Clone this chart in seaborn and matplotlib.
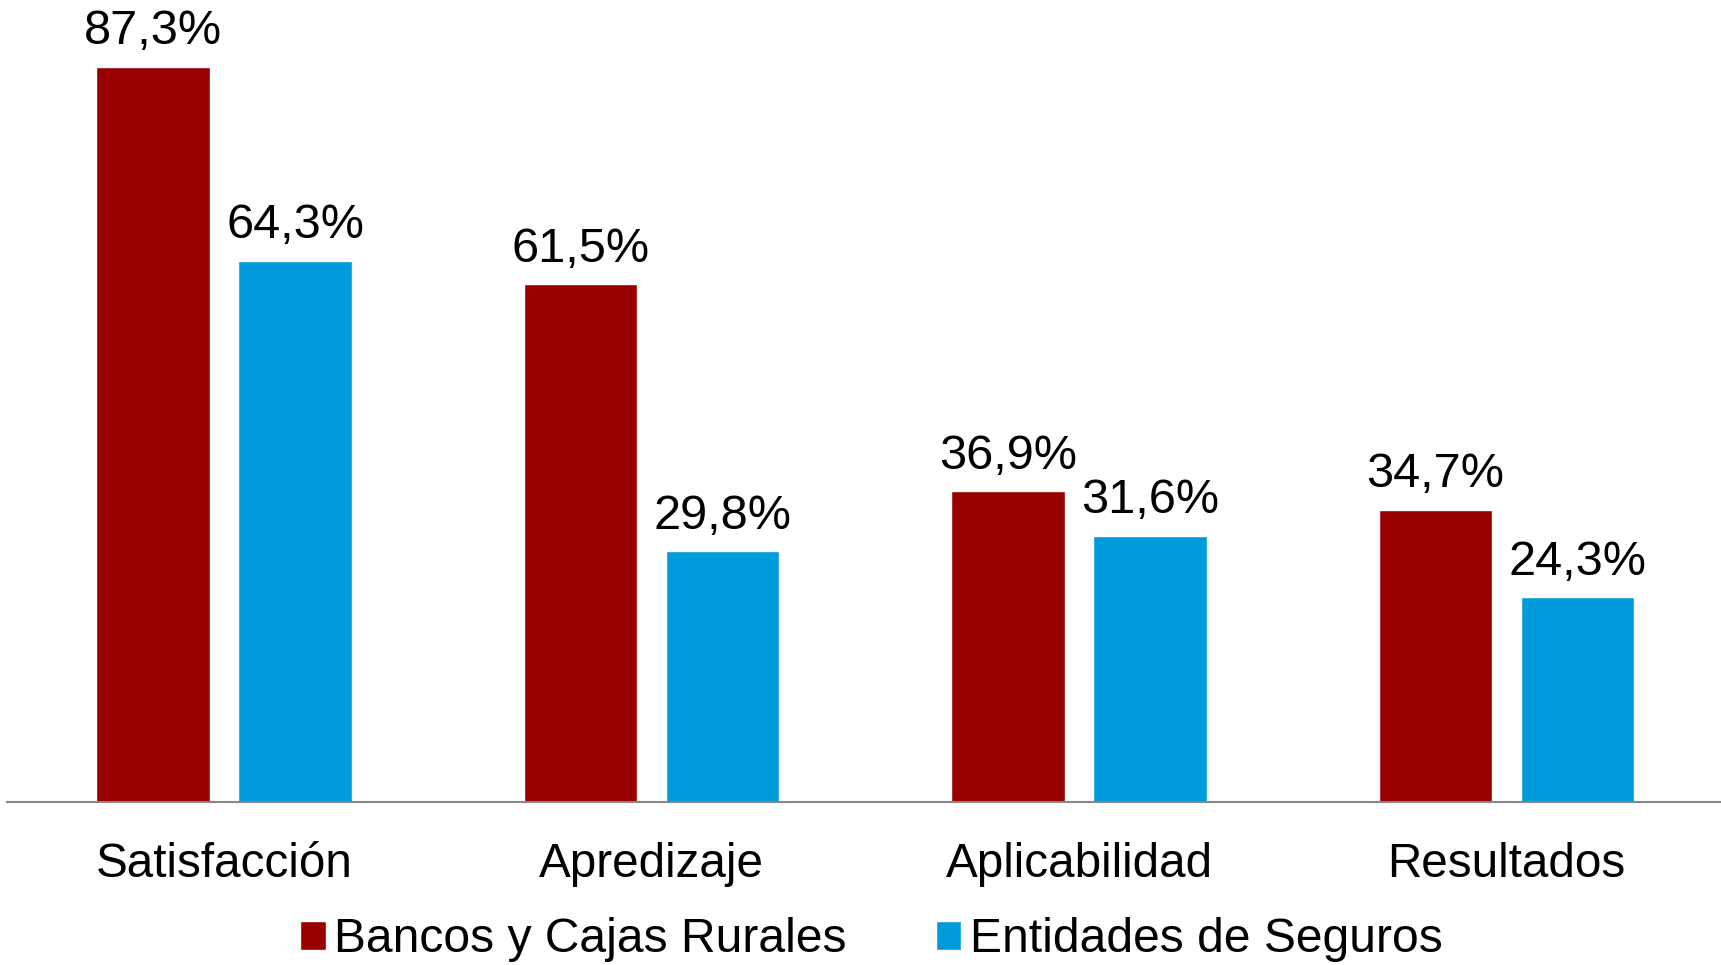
import matplotlib
matplotlib.use("Agg")
import matplotlib.pyplot as plt
import seaborn as sns
import pandas as pd

categories = ["Satisfacción", "Apredizaje", "Aplicabilidad", "Resultados"]
series_names = ["Bancos y Cajas Rurales", "Entidades de Seguros"]
bancos = [87.3, 61.5, 36.9, 34.7]
seguros = [64.3, 29.8, 31.6, 24.3]
colors = ["#990000", "#009BDB"]

rows = []
for name, vals in zip(series_names, [bancos, seguros]):
    for c, v in zip(categories, vals):
        rows.append({"cat": c, "val": v, "serie": name})
df = pd.DataFrame(rows)

sns.set_theme(style="white")
plt.rcParams["font.family"] = ["Liberation Sans", "DejaVu Sans"]
plt.rcParams["text.color"] = "black"

W, H = 1721, 965
fig = plt.figure(figsize=(W / 100, H / 100), dpi=100)
ax = fig.add_axes([7 / W, 1 - 802 / H, 1 - 7 / W, 802 / H])

sns.barplot(data=df, x="cat", y="val", hue="serie", order=categories,
            hue_order=series_names, palette=colors, width=0.665, gap=0.2,
            saturation=1, ax=ax, legend=True)

for cont, vals in zip(ax.containers, [bancos, seguros]):
    labels = [f"{v:.1f}%".replace(".", ",") for v in vals]
    ax.bar_label(cont, labels=labels, padding=9, fontsize=35, color="black")

ax.set_xlim(-0.508, 3.502)
ax.set_ylim(0, 95.25)
ax.set_xlabel("")
ax.set_ylabel("")
ax.set_yticks([])
ax.tick_params(axis="x", length=0, pad=29, labelsize=34.3, labelcolor="black")
for s in ["top", "right", "left"]:
    ax.spines[s].set_visible(False)
ax.spines["bottom"].set_color("#888888")
ax.spines["bottom"].set_linewidth(1.5)

handles, labs = ax.get_legend_handles_labels()
ax.get_legend().remove()
fig.legend(handles, labs, loc="center", bbox_to_anchor=(871.5 / W, 1 - 940 / H),
           ncol=2, frameon=False, fontsize=34.6, handlelength=0.53,
           handleheight=0.53, handletextpad=0.18, columnspacing=1.85,
           labelcolor="black")

fig.savefig("out.png", dpi=100)
